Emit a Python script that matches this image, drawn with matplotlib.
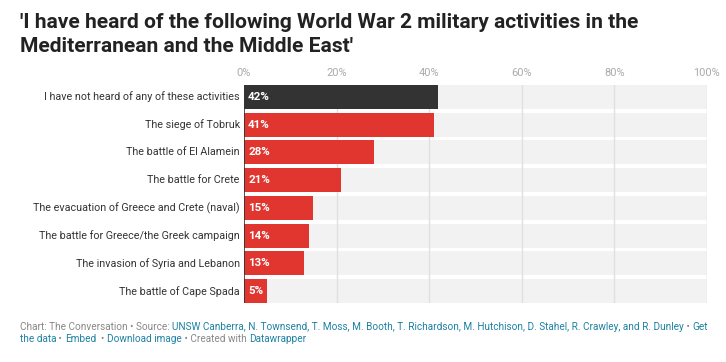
import matplotlib
matplotlib.use("Agg")
import matplotlib.pyplot as plt

categories = [
    "I have not heard of any of these activities",
    "The siege of Tobruk",
    "The battle of El Alamein",
    "The battle for Crete",
    "The evacuation of Greece and Crete (naval)",
    "The battle for Greece/the Greek campaign",
    "The invasion of Syria and Lebanon",
    "The battle of Cape Spada",
]
values = [42, 41, 28, 21, 15, 14, 13, 5]
tick_values = [0, 20, 40, 60, 80, 100]
tick_labels = ["0%", "20%", "40%", "60%", "80%", "100%"]

title = "'I have heard of the following World War 2 military activities in the\nMediterranean and the Middle East'"

W, H = 726, 362
fig = plt.figure(figsize=(W / 100, H / 100), dpi=100)
plt.rcParams['font.family'] = ['Roboto', 'DejaVu Sans']

def px(v):
    return v * 72 / 100

ax = fig.add_axes([244 / W, 1 - 303 / H, (707 - 244) / W, (303 - 85) / H])
n = len(categories)
bh = 0.86
ys = list(range(n))
ax.set_xlim(0, 100)
ax.set_ylim(n - 1 + bh / 2, -bh / 2)
ax.barh(ys, [100] * n, height=bh, color="#f2f2f2", zorder=1)
for t in tick_values[1:]:
    ax.axvline(t, color="#e0e0e0", lw=1, zorder=1.5)
colors = ["#333333"] + ["#e0362f"] * (n - 1)
ax.barh(ys, values, height=bh, color=colors, zorder=2)
ax.axvline(0, color="#333333", lw=1.2, zorder=3)
for y, v, lab in zip(ys, values, categories):
    ax.text(0.9, y, f"{v}%", color="white", fontweight="bold", fontsize=px(11.5),
            va="center", ha="left", zorder=4)
    ax.text(-0.9, y, lab, color="#333333", fontsize=px(10.7), va="center", ha="right")
for t, l in zip(tick_values, tick_labels):
    ax.text(t, -0.5 - 0.2, l, color="#aaaaaa", fontsize=px(11), ha="center", va="bottom")
for s in ax.spines.values():
    s.set_visible(False)
ax.set_xticks([])
ax.set_yticks([])

fig.text(20 / W, 1 - 13 / H, title, fontsize=px(21), fontweight="bold", color="#222222",
         va="top", ha="left", linespacing=1.3)

# footer with coloured pieces
grey = "#888888"
blue = "#1d81a2"
line1 = [("Chart: The Conversation \u2022 Source: ", grey),
         ("UNSW Canberra, N. Townsend, T. Moss, M. Booth, T. Richardson, M. Hutchison, D. Stahel, R. Crawley, and R. Dunley", blue),
         (" \u2022 ", grey), ("Get", blue)]
line2 = [("the data", blue), (" \u2022 ", grey), ("Embed", blue), ("  \u2022 ", grey),
         ("Download image", blue), (" \u2022 Created with ", grey), ("Datawrapper", blue)]
fig.canvas.draw()
r = fig.canvas.get_renderer()
for pieces, ypx in [(line1, 327), (line2, 339)]:
    x = 20
    for s, c in pieces:
        t = fig.text(x / W, 1 - ypx / H, s, fontsize=px(10.05), color=c, va="center", ha="left")
        bb = t.get_window_extent(renderer=r)
        x += bb.width

fig.savefig("out.png", dpi=100)
